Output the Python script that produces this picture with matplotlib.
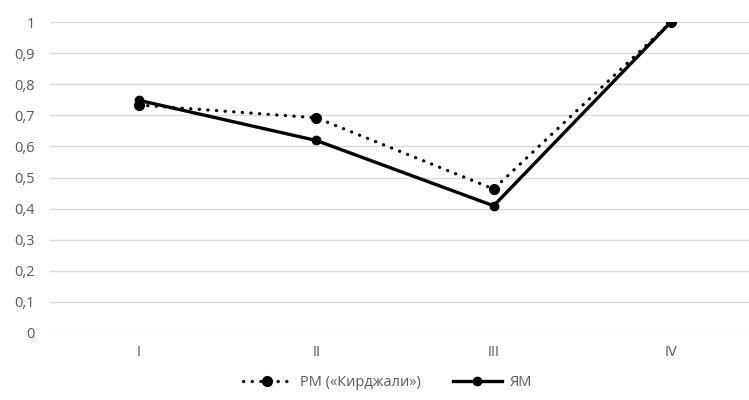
"""Line chart: РМ («Кирджали») vs ЯМ across four stages."""

import matplotlib
matplotlib.use('Agg')
import matplotlib.pyplot as plt  # pylint: disable=wrong-import-position

CATEGORIES = ["I", "II", "III", "IV"]
RM_VALUES = [0.733, 0.692, 0.463, 1.0]
YM_VALUES = [0.748, 0.619, 0.409, 1.0]
Y_TICKS = [0, 0.1, 0.2, 0.3, 0.4, 0.5, 0.6, 0.7, 0.8, 0.9, 1.0]
Y_LABELS = ["0", "0,1", "0,2", "0,3", "0,4", "0,5", "0,6", "0,7", "0,8", "0,9", "1"]

TEXT_GRAY = '#595959'
GRID_GRAY = '#d9d9d9'

plt.rcParams['font.family'] = ['Open Sans', 'DejaVu Sans']

fig = plt.figure(figsize=(7.49, 4.0), dpi=100)
ax = fig.add_axes([0.0672, 0.1675, 0.947, 0.7775])

x = list(range(len(CATEGORIES)))

# Dotted series
ax.plot(x, RM_VALUES, color='black', linewidth=2.3, linestyle=(0, (0.1, 2.6)),
        dash_capstyle='round', marker='o', markersize=7,
        label='РМ («Кирджали»)', zorder=3)

# Solid series
ax.plot(x, YM_VALUES, color='black', linewidth=2.4, marker='o', markersize=6,
        label='ЯМ', zorder=4)

ax.set_xlim(-0.5, 3.5)
ax.set_ylim(0, 1)
ax.set_xticks(x)
ax.set_xticklabels(CATEGORIES)
ax.set_yticks(Y_TICKS)
ax.set_yticklabels(Y_LABELS)

ax.tick_params(axis='both', length=0, colors=TEXT_GRAY, labelsize=10.5)
ax.tick_params(axis='y', pad=11)
ax.tick_params(axis='x', pad=9)

ax.grid(axis='y', color=GRID_GRAY, linewidth=1.0)
ax.set_axisbelow(True)
for spine in ax.spines.values():
    spine.set_visible(False)

leg = fig.legend(loc='center', bbox_to_anchor=(0.517, 0.0425), ncol=2, frameon=False,
                 fontsize=10.5, handlelength=3.4, columnspacing=2.2, handletextpad=0.5)
for txt in leg.get_texts():
    txt.set_color(TEXT_GRAY)

fig.savefig('out.png', dpi=100)
plt.close(fig)
